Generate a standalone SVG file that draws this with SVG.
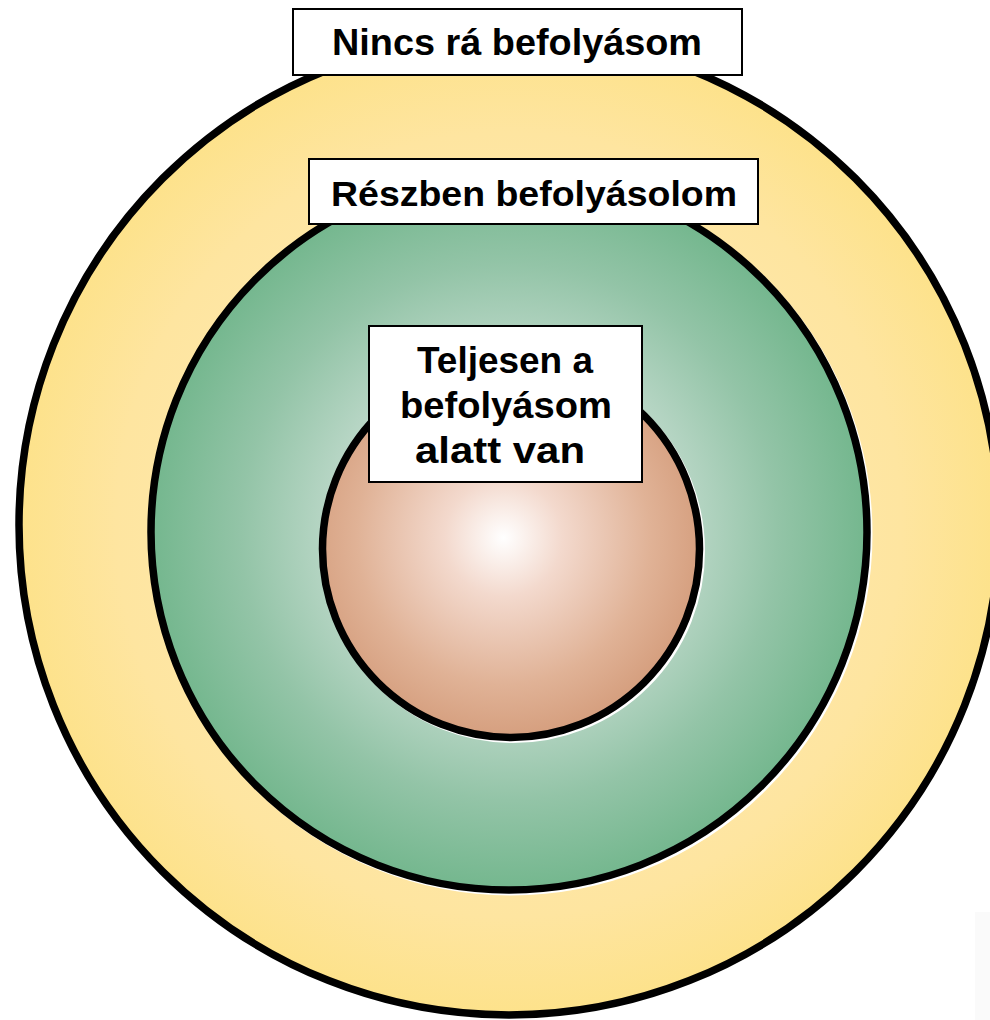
<svg xmlns="http://www.w3.org/2000/svg" width="990" height="1020" viewBox="0 0 990 1020">
<style>
.ring{stroke:#000;stroke-width:7.5}
.hl{fill:none;stroke:#fff;stroke-width:3}
.box{fill:#fff;stroke:#000;stroke-width:2}
.lbl{font-family:"Liberation Sans",Arial,sans-serif;font-weight:bold;fill:#000;text-anchor:middle}
</style>
<defs>
<radialGradient id="gY" cx="50%" cy="50%" r="50%">
<stop offset="0" stop-color="#ffffff"/>
<stop offset="0.6" stop-color="#fee7a8"/>
<stop offset="0.8" stop-color="#fee5a0"/>
<stop offset="1" stop-color="#fde28b"/>
</radialGradient>
<radialGradient id="gG" cx="50%" cy="50%" r="50%">
<stop offset="0" stop-color="#ffffff"/>
<stop offset="0.45" stop-color="#c0dacc"/>
<stop offset="0.75" stop-color="#93c4a7"/>
<stop offset="1" stop-color="#74b78e"/>
</radialGradient>
<radialGradient id="gP" cx="48%" cy="47%" r="52%">
<stop offset="0" stop-color="#ffffff"/>
<stop offset="0.3" stop-color="#f3d9cd"/>
<stop offset="0.75" stop-color="#e0b296"/>
<stop offset="1" stop-color="#d6a080"/>
</radialGradient>
</defs>
<rect x="975" y="912" width="15" height="108" fill="#fafafa"/>
<g id="outer">
<circle class="ring" cx="509" cy="525" r="490" fill="url(#gY)"/>
</g>
<g id="middle">
<circle class="hl" cx="511" cy="534" r="360"/>
<circle class="ring" cx="509" cy="532" r="358" fill="url(#gG)"/>
</g>
<g id="inner">
<circle class="hl" cx="513" cy="551" r="190.5"/>
<circle class="ring" cx="511" cy="549" r="188.5" fill="url(#gP)"/>
</g>
<g id="label-outer">
<rect class="box" x="293" y="9" width="449" height="66"/>
<text class="lbl" x="517" y="55" font-size="36" textLength="370" lengthAdjust="spacingAndGlyphs">Nincs rá befolyásom</text>
</g>
<g id="label-middle">
<rect class="box" x="309" y="159" width="449" height="65"/>
<text class="lbl" x="534" y="206" font-size="35" textLength="406" lengthAdjust="spacingAndGlyphs">Részben befolyásolom</text>
</g>
<g id="label-inner">
<rect class="box" x="369" y="326" width="273" height="156"/>
<text class="lbl" x="505" y="373" font-size="36" textLength="176" lengthAdjust="spacingAndGlyphs">Teljesen a</text>
<text class="lbl" x="506" y="418" font-size="36" textLength="212" lengthAdjust="spacingAndGlyphs">befolyásom</text>
<text class="lbl" x="500" y="463" font-size="36" textLength="170" lengthAdjust="spacingAndGlyphs">alatt van</text>
</g>
<g id="connectors"/>
</svg>
